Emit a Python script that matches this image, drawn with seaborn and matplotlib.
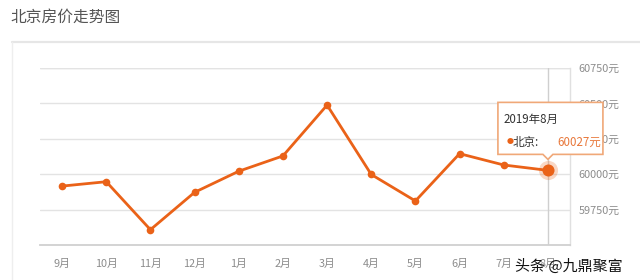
import matplotlib
matplotlib.use("Agg")
import matplotlib.pyplot as plt
import seaborn as sns
import pandas as pd
from matplotlib.patches import Polygon
from matplotlib.lines import Line2D
from matplotlib.transforms import Affine2D, ScaledTranslation

# ---- data ----
months = ['9月', '10月', '11月', '12月', '1月', '2月', '3月', '4月', '5月', '6月', '7月', '8月']
prices = [59916, 59947, 59608, 59872, 60021, 60129, 60488, 59998, 59811, 60145, 60065, 60027]
y_ticks = [59500, 59750, 60000, 60250, 60500, 60750]
title = '北京房价走势图'
series_name = '北京'
tooltip_title = '2019年8月'
watermark = '头条 @九鼎聚富'
highlight = 11

sns.set_theme(style='white')
plt.rcParams['font.family'] = ['Noto Sans CJK SC', 'DejaVu Sans']

ORANGE = '#ea6218'
GRID = '#e3e3e3'
LABEL = '#8c8c8c'

df = pd.DataFrame({'month': months, 'price': prices})

fig = plt.figure(figsize=(6.4, 2.8), dpi=100)
fig.patch.set_facecolor('white')

W, H = 640, 280
def fx(px):
    return px / W
def fy(py):
    return 1 - py / H

# panel frame
fig.add_artist(Line2D([fx(12), fx(640)], [fy(42), fy(42)], color='#e6e6e6', lw=1.6))
fig.add_artist(Line2D([fx(12), fx(12)], [fy(42), fy(280)], color='#eeeeee', lw=1.0))
fig.text(fx(10), fy(17), title, fontsize=11.3, color='#555555', va='center', ha='left')

ax = fig.add_axes([fx(40), fy(245), fx(570) - fx(40), fy(68) - fy(245)])
sns.lineplot(data=df, x='month', y='price', ax=ax, sort=False, color=ORANGE,
             linewidth=2.0, marker='o', markersize=5.5, markeredgewidth=0, zorder=4)

ax.set_xlim(-0.5, len(months) - 0.5)
ax.set_ylim(y_ticks[0], y_ticks[-1])
ax.set_yticks(y_ticks[1:])
ax.set_yticklabels([f'{v}元' for v in y_ticks[1:]])
ax.yaxis.tick_right()
ax.tick_params(axis='y', length=0, pad=6, labelsize=7.8, labelcolor=LABEL)
ax.tick_params(axis='x', length=0, pad=10, labelsize=7.8, labelcolor=LABEL)
ax.set_xlabel('')
ax.set_ylabel('')
ax.grid(axis='y', color=GRID, lw=1.0)
ax.axhline(y_ticks[-1], color=GRID, lw=1.0, zorder=1)
for s in ['left', 'top']:
    ax.spines[s].set_visible(False)
ax.spines['bottom'].set_color('#d0d0d0')
ax.spines['bottom'].set_linewidth(1.3)
ax.spines['right'].set_color('#e0e0e0')
ax.spines['right'].set_linewidth(1.0)

# crosshair
ax.axvline(highlight, color='#cfcfcf', lw=1.0, zorder=2)

# highlighted point
ax.scatter([highlight], [prices[highlight]], s=190, color=ORANGE, alpha=0.25, linewidths=0, zorder=5)
ax.scatter([highlight], [prices[highlight]], s=75, color=ORANGE, linewidths=0, zorder=6)

# tooltip anchored on highlighted point (offsets in pixels at 100 dpi)
base = Affine2D().scale(1.0 / 100) + fig.dpi_scale_trans + ScaledTranslation(
    highlight, prices[highlight], ax.transData)
box = [(-50, 16), (-5, 16), (0, 11), (5, 16), (55, 16), (55, 68), (-50, 68)]
tip = Polygon(box, closed=True, transform=base, facecolor='white', edgecolor='#f0a878',
              lw=1.2, zorder=20, clip_on=False)
ax.add_patch(tip)
ax.text(-44, 51, tooltip_title, transform=base, fontsize=8.3, color='#333333',
        va='center', ha='left', zorder=21, clip_on=False)
ax.text(-41, 28, '●', transform=base, fontsize=5, color=ORANGE,
        va='center', ha='left', zorder=21, clip_on=False)
ax.text(-35, 28, f'{series_name}:', transform=base, fontsize=8.3, color='#333333',
        va='center', ha='left', zorder=21, clip_on=False)
ax.text(9, 28, f'{prices[highlight]}元', transform=base, fontsize=8.3, color='#e8773a',
        va='center', ha='left', zorder=21, clip_on=False)

# watermark
fig.text(fx(515), fy(266), watermark, fontsize=10.8, color='#111111', va='center', ha='left')

fig.savefig('out.png', dpi=100, facecolor='white')
